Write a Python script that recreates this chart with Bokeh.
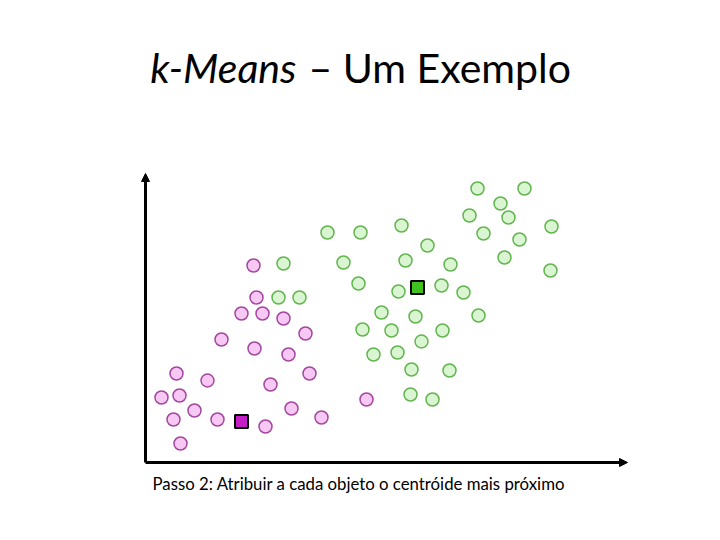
from bokeh.plotting import figure
from bokeh.models import Range1d, Arrow, NormalHead
from bokeh.core.properties import value
from bokeh.embed import file_html
from bokeh.resources import INLINE

# Data (abstract units, origin at the axis corner)
pink_x = [108, 111, 96, 117, 138, 160, 76, 109, 143, 31, 62, 164, 125, 16, 34, 49, 28, 72, 146, 176, 120, 35, 221]
pink_y = [197, 165, 149, 149, 144, 129, 123, 114, 108, 89, 82, 89, 78, 65, 67, 52, 43, 43, 54, 45, 36, 19, 63]

green_x = [182, 215, 256, 138, 133, 154, 198, 213, 260, 282, 305, 253, 296, 318, 236, 270, 333, 217, 246, 297,
           276, 228, 252, 266, 304, 265, 287, 332, 379, 355, 324, 363, 406, 338, 374, 359, 405]
green_y = [230, 230, 237, 199, 165, 165, 200, 179, 202, 217, 198, 171, 177, 170, 150, 146, 147, 133, 132, 132,
           121, 108, 110, 93, 92, 68, 63, 274, 274, 259, 247, 245, 236, 229, 223, 205, 192]

centroid_x = [96, 272]
centroid_y = [41, 175]
centroid_colors = ["#c41fc4", "#3fc21f"]

title_italic = "k-Means"
title_rest = "\u2013 Um Exemplo"
caption = "Passo 2: Atribuir a cada objeto o centr\u00f3ide mais pr\u00f3ximo"

p = figure(width=704, height=524, output_backend="svg", toolbar_location=None,
           x_range=Range1d(-145, 559), y_range=Range1d(-62, 462), min_border=0)
p.axis.visible = False
p.grid.visible = False
p.outline_line_color = None
p.background_fill_color = "white"
p.border_fill_color = "white"

# axes with arrows
p.add_layout(Arrow(x_start=0, y_start=0, x_end=0, y_end=289, line_width=3, line_color="black",
                   end=NormalHead(size=8, fill_color="black", line_color="black")))
p.add_layout(Arrow(x_start=0, y_start=0, x_end=482, y_end=0, line_width=3, line_color="black",
                   end=NormalHead(size=8, fill_color="black", line_color="black")))

p.scatter(pink_x, pink_y, marker="circle", size=13, fill_color="#f8c8f4", line_color="#a3479e", line_width=1.5)
p.scatter(green_x, green_y, marker="circle", size=13, fill_color="#daf5d2", line_color="#62b54e", line_width=1.5)
p.scatter(centroid_x, centroid_y, marker="square", size=13, fill_color=centroid_colors, line_color="black", line_width=2)

p.text([151], [395], text=[title_italic], text_font=value("Lato"), text_font_size="41px",
       text_font_style="italic", text_align="right", text_baseline="alphabetic", text_color="black")
p.text([163], [395], text=[title_rest], text_font=value("Lato"), text_font_size="41px",
       text_align="left", text_baseline="alphabetic", text_color="black")
p.text([7], [-21], text=[caption], text_font=value("Lato"), text_font_size="16.8px",
       text_align="left", text_baseline="alphabetic", text_color="black")

open("out.html", "w").write(file_html(p, INLINE))
